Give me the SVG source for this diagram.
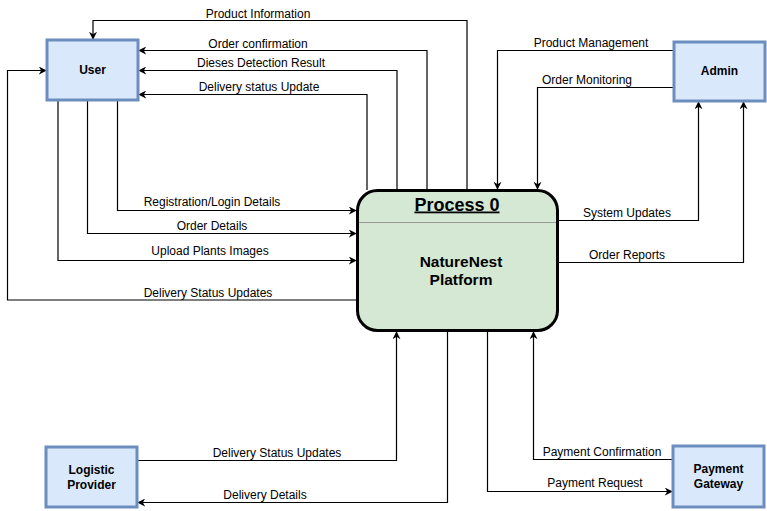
<svg xmlns="http://www.w3.org/2000/svg" width="767" height="511" viewBox="0 0 767 511">
<style>
.ent{fill:#dae8fc;stroke:#6c8ebf;stroke-width:3}
.et{font-family:"Liberation Sans",Arial,sans-serif;font-size:12px;font-weight:bold;fill:#000;text-anchor:middle}
.pt{font-family:"Liberation Sans",Arial,sans-serif;font-size:15.5px;font-weight:bold;fill:#000;text-anchor:middle}
.lbl{font-family:"Liberation Sans",Arial,sans-serif;font-size:12px;fill:#000;text-anchor:middle}
.c{fill:none;stroke:#000;stroke-width:1.2}
.g{stroke:#666}
</style>
<defs>
<marker id="a" viewBox="0 0 10 10" refX="9" refY="5" markerWidth="8" markerHeight="8" markerUnits="userSpaceOnUse" orient="auto">
<path d="M0,0 L10,5 L0,10 L3,5 Z" fill="#000"/>
</marker>
</defs>
<rect width="767" height="511" fill="#fff"/>
<g id="connectors">
<path class="c" d="M467,190 V20.5 H93 V39" marker-end="url(#a)"/>
<path class="c" d="M427,190 V50.5 H139" marker-end="url(#a)"/>
<path class="c" d="M397,190 V70.5 H139" marker-end="url(#a)"/>
<path class="c" d="M367,190 V94.5 H139" marker-end="url(#a)"/>
<path class="c" d="M357,300 H7.5 V70.5 H46" marker-end="url(#a)"/>
<path class="c" d="M117.5,100 V210.5 H356" marker-end="url(#a)"/>
<path class="c" d="M87.5,100 V233.5 H356" marker-end="url(#a)"/>
<path class="c" d="M58,100 V260.5 H356" marker-end="url(#a)"/>
<path class="c" d="M674,50.5 H497.5 V189" marker-end="url(#a)"/>
<path class="c" d="M674,87.5 H537.5 V189" marker-end="url(#a)"/>
<path class="c" d="M558,220.5 H698.5 V102" marker-end="url(#a)"/>
<path class="c" d="M558,262.5 H743.5 V102" marker-end="url(#a)"/>
<path class="c" d="M137,460.5 H396.5 V332" marker-end="url(#a)"/>
<path class="c" d="M447.5,331 V502.5 H138" marker-end="url(#a)"/>
<path class="c" d="M673,459.5 H533.5 V332" marker-end="url(#a)"/>
<path class="c" d="M487.5,331 V491.5 H672" marker-end="url(#a)"/>
<text class="lbl" x="258" y="18">Product Information</text>
<text class="lbl" x="258" y="48">Order confirmation</text>
<text class="lbl" x="261" y="67">Dieses Detection Result</text>
<text class="lbl" x="259" y="91">Delivery status Update</text>
<text class="lbl" x="212" y="206">Registration/Login Details</text>
<text class="lbl" x="212" y="230">Order Details</text>
<text class="lbl" x="210" y="255">Upload Plants Images</text>
<text class="lbl" x="208" y="297">Delivery Status Updates</text>
<text class="lbl" x="591" y="47">Product Management</text>
<text class="lbl" x="587" y="84">Order Monitoring</text>
<text class="lbl" x="627" y="217">System Updates</text>
<text class="lbl" x="627" y="259">Order Reports</text>
<text class="lbl" x="277" y="457">Delivery Status Updates</text>
<text class="lbl" x="265" y="499">Delivery Details</text>
<text class="lbl" x="602" y="456">Payment Confirmation</text>
<text class="lbl" x="595" y="487">Payment Request</text>
</g>
<g id="user">
<rect class="ent" x="47" y="40" width="91" height="60"/>
<text class="et" x="92.5" y="74">User</text>
</g>
<g id="admin">
<rect class="ent" x="674" y="42" width="91" height="59"/>
<text class="et" x="719.5" y="75">Admin</text>
</g>
<g id="logistic">
<rect class="ent" x="46" y="447" width="91" height="60"/>
<text class="et" x="91.5" y="474">Logistic</text>
<text class="et" x="91.5" y="489">Provider</text>
</g>
<g id="payment">
<rect class="ent" x="673" y="446" width="91" height="61"/>
<text class="et" x="718.5" y="473">Payment</text>
<text class="et" x="718.5" y="488">Gateway</text>
</g>
<g id="process">
<rect x="357.5" y="190.5" width="200" height="140" rx="20" ry="20" fill="#d5e8d4" stroke="#000" stroke-width="3"/>
<line x1="359" y1="222.5" x2="556" y2="222.5" stroke="#999" stroke-width="1"/>
<text x="457" y="210.5" font-family="'Liberation Sans',Arial,sans-serif" font-size="18" font-weight="bold" text-anchor="middle" text-decoration="underline">Process 0</text>
<text class="pt" x="461" y="266.5">NatureNest</text>
<text class="pt" x="461" y="285">Platform</text>
</g>
</svg>
